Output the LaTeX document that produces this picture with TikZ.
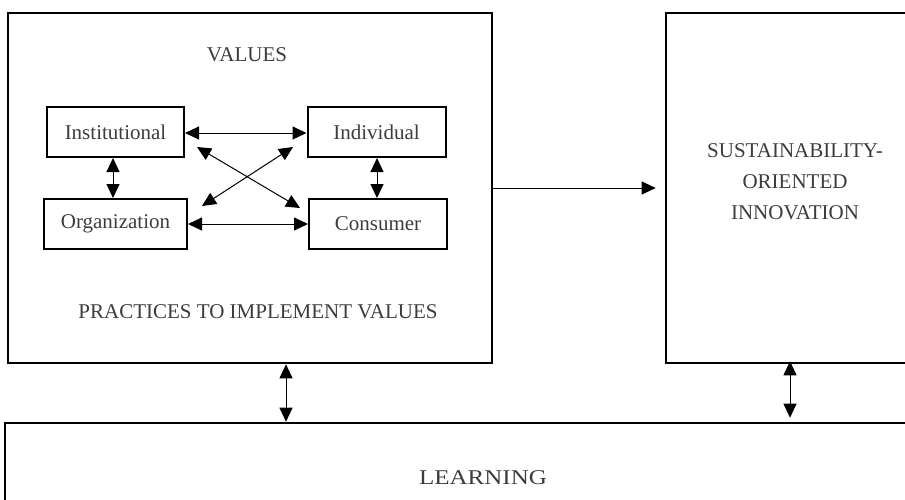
\documentclass[tikz,border=0pt]{standalone}
\usepackage{fontspec}
\setmainfont{Liberation Serif}
\usepackage{graphicx}
\usetikzlibrary{arrows.meta}
\definecolor{txt}{HTML}{3C3C3C}
\tikzset{
  bigbox/.style={draw, line width=2.6pt, rectangle, inner sep=0pt},
  valbox/.style={draw, line width=2pt, rectangle, minimum height=50pt, inner sep=0pt,
    font=\fontsize{21}{25}\selectfont, text=txt},
  label/.style={font=\fontsize{21}{31}\selectfont, text=txt, align=center, inner sep=0pt},
  link/.style={line width=1pt, {Triangle[length=14pt,width=13pt]}-{Triangle[length=14pt,width=13pt]}},
  flow/.style={line width=1pt, -{Triangle[length=14pt,width=13pt]}}
}
\begin{document}
\begin{tikzpicture}[x=1pt, y=-1pt]
\clip (0,0) rectangle (905,499);

% outer frames
\node[bigbox, minimum width=484pt, minimum height=350pt] (vp) at (250,188) {};
\node[bigbox, minimum width=258pt, minimum height=350pt] (soi) at (795,188) {};
\node[bigbox, minimum width=956pt, minimum height=110pt, label] (learn) at (483,478)
  {\scalebox{1.19}[1]{LEARNING}};

% frame titles
\node[label] (values) at (247,55) {VALUES};
\node[label] (practices) at (258,312) {PRACTICES TO IMPLEMENT VALUES};
\node[label] (soitext) at (795,182) {SUSTAINABILITY-\\ORIENTED\\INNOVATION};

% value levels
\node[valbox, minimum width=137pt] (inst) at (115.5,132) {Institutional};
\node[valbox, minimum width=138pt] (indiv) at (376.5,132) {Individual};
\node[valbox, minimum width=143pt] (org) at (115.5,224) {Organization};
\node[valbox, minimum width=138pt] (cons) at (378,224) {Consumer};

% links between value levels
\draw[link] (inst.east |- 0,133) -- (indiv.west |- 0,133);
\draw[link] (org.east |- 0,224) -- (cons.west |- 0,224);
\draw[link] (inst.south -| 113,0) -- (org.north -| 113,0);
\draw[link] (indiv.south -| 377,0) -- (cons.north -| 377,0);
\coordinate (d1a) at (197,147);
\coordinate (d1b) at (300,208);
\coordinate (d2a) at (293,147);
\coordinate (d2b) at (202,206);
\draw[link] (d1a) -- (d1b);
\draw[link] (d2a) -- (d2b);

% links between frames
\draw[flow, shorten >=9pt] (vp.east |- 0,188) -- (soi.west |- 0,188);
\draw[link] (vp.south -| 286,0) -- (learn.north -| 286,0);
\draw[link, shorten <=-3pt, shorten >=4pt] (soi.south -| 790,0) -- (learn.north -| 790,0);
\end{tikzpicture}
\end{document}
